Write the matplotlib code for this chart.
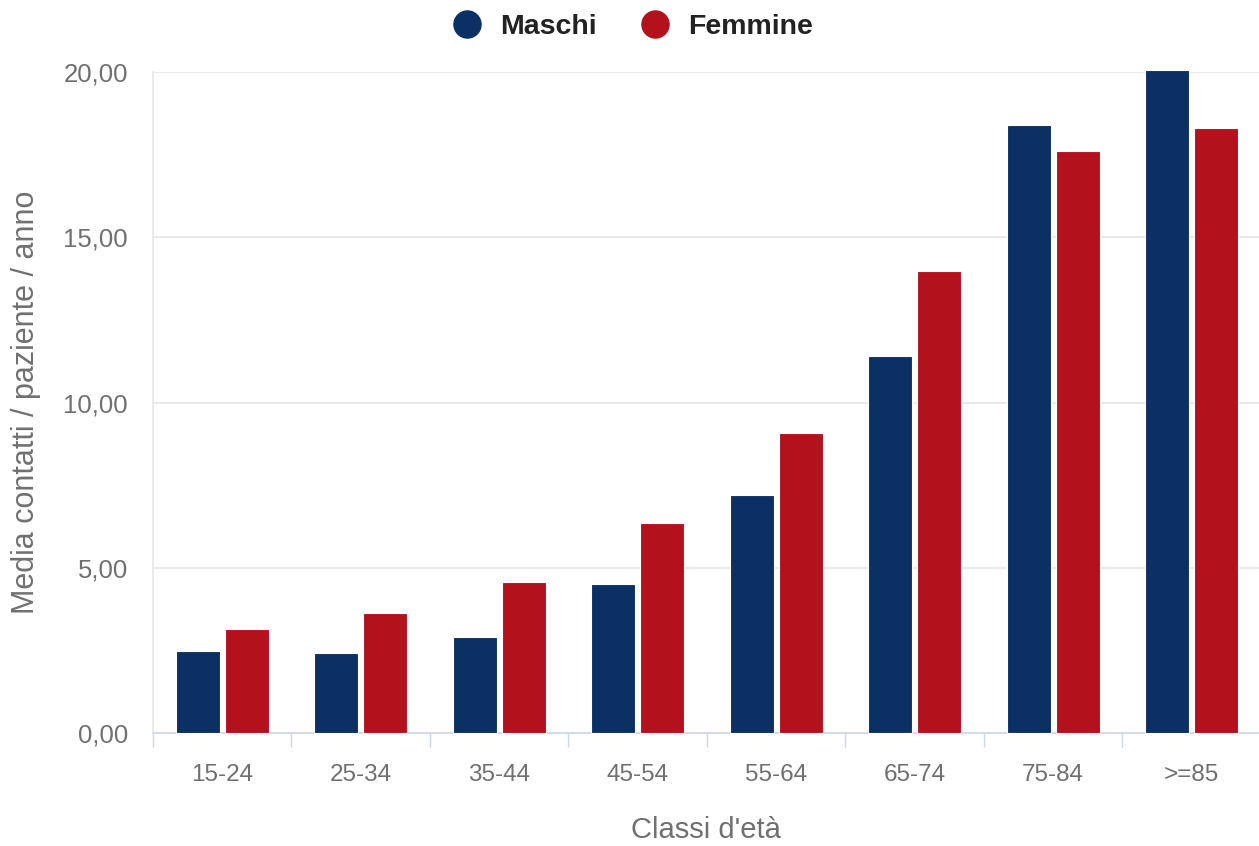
import matplotlib
matplotlib.use("Agg")
import matplotlib.pyplot as plt
from matplotlib.lines import Line2D
from matplotlib.ticker import FuncFormatter, FixedLocator
import numpy as np

plt.rcParams['font.family'] = ['Liberation Sans', 'DejaVu Sans']

classi = ["15-24", "25-34", "35-44", "45-54", "55-64", "65-74", "75-84", ">=85"]
maschi = [2.50, 2.42, 2.92, 4.51, 7.21, 11.40, 18.38, 20.06]
femmine = [3.15, 3.65, 4.57, 6.36, 9.07, 13.97, 17.60, 18.30]

col_m = "#0b3064"
col_f = "#b3121c"
grid_col = "#e6e6e6"
axis_col = "#ccd6eb"
label_col = "#707070"

fig = plt.figure(figsize=(12.59, 8.46), dpi=100)
ax = fig.add_axes([0.1215, 0.1330, 0.8785, 0.7823])

x = np.arange(len(classi))
w = 0.318
off = 0.178
ax.bar(x - off, maschi, w, color=col_m, edgecolor="white", linewidth=0.8, clip_on=False, zorder=3)
ax.bar(x + off, femmine, w, color=col_f, edgecolor="white", linewidth=0.8, clip_on=False, zorder=3)

ax.set_xlim(-0.5, 7.486)
ax.set_ylim(0, 20)
ax.set_yticks([0, 5, 10, 15, 20])
ax.yaxis.set_major_formatter(FuncFormatter(lambda v, p: f"{v:.2f}".replace(".", ",")))
ax.grid(axis="y", color=grid_col, linewidth=1.2, zorder=0)

for s in ["top", "right"]:
    ax.spines[s].set_visible(False)
ax.spines["left"].set_color(grid_col)
ax.spines["left"].set_linewidth(1.2)
ax.spines["bottom"].set_color(axis_col)
ax.spines["bottom"].set_linewidth(1.2)

ax.set_xticks(x)
ax.set_xticklabels(classi)
ax.xaxis.set_minor_locator(FixedLocator(np.arange(-0.5, 8.0, 1.0)))
ax.tick_params(axis="x", which="major", length=0, pad=22, labelsize=17.5, labelcolor=label_col)
ax.tick_params(axis="x", which="minor", length=10, width=1.0, color=axis_col)
ax.tick_params(axis="y", length=0, pad=18, labelsize=18.5, labelcolor=label_col)

ax.set_xlabel("Classi d'età", fontsize=21, color=label_col)
ax.xaxis.set_label_coords(0.5, -0.125)
ax.set_ylabel("Media contatti / paziente / anno", fontsize=22, color=label_col, va="center")
ax.yaxis.set_label_coords(-0.115, 0.5)

handles = [
    Line2D([], [], marker="o", linestyle="none", markersize=19.5, markerfacecolor=col_m, markeredgecolor=col_m),
    Line2D([], [], marker="o", linestyle="none", markersize=19.5, markerfacecolor=col_f, markeredgecolor=col_f),
]
leg = fig.legend(handles, ["Maschi", "Femmine"], loc="center", bbox_to_anchor=(0.503, 0.968),
                 ncol=2, frameon=False, handlelength=0.95, handletextpad=0.7, columnspacing=1.55,
                 prop={"weight": "bold", "size": 20.5})
for t in leg.get_texts():
    t.set_color("#222222")

fig.savefig("out.png", dpi=100)
